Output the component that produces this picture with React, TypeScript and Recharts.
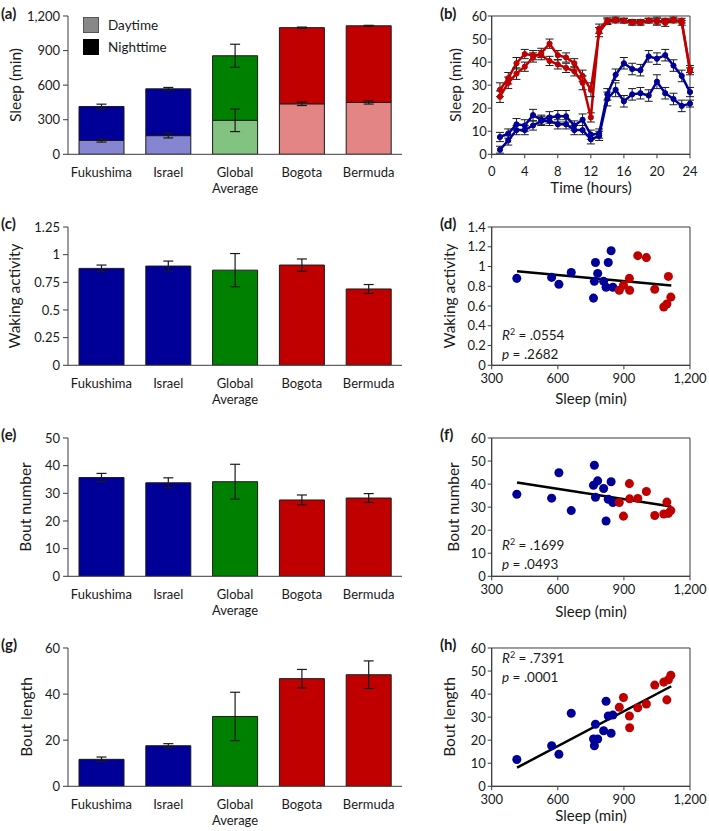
import React from 'react';
import {
  BarChart,
  Bar,
  Cell,
  ErrorBar,
  XAxis,
  YAxis,
  LineChart,
  Line,
  ScatterChart,
  Scatter,
  ReferenceLine,
  ReferenceArea,
} from 'recharts';

const FONT = 'Lato, "Open Sans", sans-serif';
const INK = '#1a1a1a';
const AXIS = '#3a3a3a';
const BLUE = '#000099';
const RED = '#C00000';

// sites shown in the bar panels
const sites = ['Fukushima', 'Israel', 'Global Average', 'Bogota', 'Bermuda'];
const siteDark = [BLUE, BLUE, '#008000', RED, RED];
const siteLight = ['#8585D2', '#8585D2', '#82C382', '#E38585', '#E38585'];

// (a) minutes of sleep, day part + night part
const daySleep = [120, 162, 295, 438, 450];
const daySleepErr = [14, 20, 98, 15, 14];
const nightSleep = [295, 406, 560, 661, 665];
const totalSleepErr = [20, 12, 100, 5, 4];

// (c) (e) (g)
const wakingActivity = [0.876, 0.897, 0.86, 0.906, 0.69];
const wakingActivityErr = [0.03, 0.045, 0.15, 0.055, 0.04];
const boutNumber = [35.7, 33.8, 34.2, 27.6, 28.3];
const boutNumberErr = [1.5, 1.8, 6.3, 1.8, 1.6];
const boutLength = [11.7, 17.6, 30.3, 46.7, 48.4];
const boutLengthErr = [1, 0.9, 10.5, 4, 6];

// (b) sleep per hour
const hours = [1, 2, 3, 4, 5, 6, 7, 8, 9, 10, 11, 12, 13, 14, 15, 16, 17, 18, 19, 20, 21, 22, 23, 24];
const redLine1 = [25, 31, 35, 38, 42, 44, 48, 43, 42, 39.5, 34, 28, 53, 57.5, 58, 58, 57, 57.5, 58, 57.5, 58, 58.5, 57, 37];
const redLine1Err = [2.5, 2.5, 2.5, 2, 2, 2, 2, 2, 2, 2, 2.5, 3, 2, 1.2, 1, 1, 1, 1, 1, 1.5, 1, 1, 1, 1.5];
const redLine2 = [28, 33, 39.5, 43.5, 43, 43, 40.5, 39, 37.5, 36, 31, 16, 54.5, 58, 58.5, 58, 57.5, 57, 58, 58, 57, 58, 58, 36];
const redLine2Err = [3, 2.5, 2.5, 2, 2, 2, 2, 2, 2, 2, 3, 2, 2, 1.2, 1, 1, 1, 1, 1, 1.5, 1.5, 1, 1, 1.5];
const blueLine1 = [7.5, 9, 13, 12.5, 17, 15, 16, 16.5, 16.5, 12.5, 15, 8.5, 9, 26, 34.5, 39.5, 37, 36.5, 42.5, 41.5, 43, 38.5, 34, 27];
const blueLine1Err = [2, 2, 2.5, 2.5, 2.5, 2, 2.5, 2.5, 2.5, 2, 2.5, 2, 2, 2.5, 2.5, 2.5, 2.5, 2.5, 2.5, 2.5, 2.5, 2.5, 2.5, 2];
const blueLine2 = [2, 6, 10.5, 10.5, 12.5, 14.5, 14.5, 13, 13, 10.5, 10.5, 6.5, 8, 24, 28, 23, 26, 26.5, 25.5, 31.5, 26.5, 24, 21, 22];
const blueLine2Err = [1.5, 2, 2, 2, 2, 2, 2, 2, 2, 2, 2, 2, 2, 3, 3, 2.5, 2.5, 2.5, 2.5, 3, 2.5, 2.5, 2.5, 1.5];

// (d) (f) (h) individuals: sleep (min) vs trait
const blueSleep = [414, 572, 605, 661, 762, 766, 771, 781, 808, 819, 829, 842, 850];
const redSleep = [879, 898, 925, 926, 963, 1002, 1040, 1081, 1095, 1102, 1113];
const blueWaking = [0.88, 0.89, 0.82, 0.94, 0.68, 0.85, 1.04, 0.93, 0.85, 0.79, 1.04, 1.16, 0.79];
const redWaking = [0.76, 0.81, 0.88, 0.76, 1.11, 1.09, 0.77, 0.59, 0.62, 0.9, 0.69];
const blueBoutNumber = [35.6, 33.9, 44.9, 28.5, 39.5, 48.2, 34.3, 41.4, 38.1, 24.0, 33.4, 41.0, 32.0];
const redBoutNumber = [32, 26.1, 40.2, 33.6, 33.8, 36.8, 26.4, 27.0, 32.2, 27.3, 28.5];
const blueBoutLength = [11.6, 17.6, 13.9, 31.7, 20.5, 17.6, 26.9, 20.5, 24.1, 36.9, 30.5, 23.0, 30.9];
const redBoutLength = [34.3, 38.5, 30.5, 25.4, 34.1, 35.7, 43.9, 45.2, 37.5, 46.2, 48.2];

// fitted lines (end points)
const trendWaking = [{ x: 415, y: 0.952 }, { x: 1115, y: 0.808 }];
const trendBoutNumber = [{ x: 415, y: 40.7 }, { x: 1115, y: 30.3 }];
const trendBoutLength = [{ x: 415, y: 8.1 }, { x: 1115, y: 43.4 }];

const fmtComma = (v: number) => v.toLocaleString('en-US');
const toPoints = (xs: number[], ys: number[]) => xs.map((x, i) => ({ x, y: ys[i] }));

const sleepRows = sites.map((site, i) => ({
  site,
  day: daySleep[i],
  dayErr: daySleepErr[i],
  night: nightSleep[i],
  totalErr: totalSleepErr[i],
}));
const simpleRows = (vals: number[], errs: number[]) =>
  sites.map((site, i) => ({ site, value: vals[i], err: errs[i] }));

const hourRows = hours.map((hour, i) => ({
  hour,
  r1: redLine1[i], r1e: redLine1Err[i],
  r2: redLine2[i], r2e: redLine2Err[i],
  b1: blueLine1[i], b1e: blueLine1Err[i],
  b2: blueLine2[i], b2e: blueLine2Err[i],
}));

const CH = 198.8;
const tickStyle = { fontSize: 13, fill: INK, fontFamily: FONT };

const SiteTick = (props: any) => {
  const { x, y, payload } = props;
  const words = String(payload.value).split(' ');
  return (
    <text x={x} y={y} textAnchor="middle" fontSize={13} fontFamily={FONT} fill={INK}>
      {words.map((w, i) => (
        <tspan key={w} x={x} dy={i === 0 ? 21.5 : 16.6}>{w}</tspan>
      ))}
    </text>
  );
};

const BarFrame = ({ top, rows, yMax, yTicks, yFmt, children }: any) => (
  <div style={{ position: 'absolute', left: 0, top, width: 410, height: CH }}>
    <BarChart width={410} height={CH} data={rows} margin={{ top: 16, right: 8, bottom: 0, left: 0 }}>
      <XAxis xAxisId="front" dataKey="site" hide height={0} />
      <XAxis
        xAxisId="edge"
        type="number"
        domain={[0, 5]}
        ticks={[0, 1, 2, 3, 4, 5]}
        interval={0}
        allowDataOverflow
        tick={false}
        tickSize={5}
        tickLine={{ stroke: AXIS }}
        axisLine={{ stroke: AXIS }}
        height={1}
      />
      <XAxis
        xAxisId="site"
        dataKey="site"
        interval={0}
        tick={<SiteTick />}
        tickLine={false}
        axisLine={false}
        tickSize={0}
        tickMargin={0}
        height={CH - 16 - 138.3 - 1}
      />
      <YAxis
        domain={[0, yMax]}
        ticks={yTicks}
        interval={0}
        tickFormatter={yFmt}
        width={68}
        tickSize={5}
        tickMargin={3}
        tick={tickStyle}
        tickLine={{ stroke: AXIS }}
        axisLine={{ stroke: AXIS }}
        allowDataOverflow
      />
      {children}
    </BarChart>
  </div>
);

const simpleBar = (rows: any[]) => (
  <Bar xAxisId="site" dataKey="value" barSize={45} stroke={INK} strokeWidth={1} isAnimationActive={false}>
    {rows.map((r, i) => (
      <Cell key={r.site} fill={siteDark[i]} />
    ))}
    <ErrorBar dataKey="err" width={5} stroke={INK} strokeWidth={1.2} />
  </Bar>
);

const ScatterFrame = ({ top, yMax, yTicks, children }: any) => (
  <div style={{ position: 'absolute', left: 440, top, width: 269, height: CH }}>
    <ScatterChart width={269} height={CH} margin={{ top: 16, right: 19, bottom: 0, left: 0 }}>
      <XAxis
        type="number"
        dataKey="x"
        domain={[300, 1200]}
        ticks={[300, 600, 900, 1200]}
        interval={0}
        tickFormatter={fmtComma}
        tickSize={4}
        tickMargin={4.5}
        tick={tickStyle}
        tickLine={{ stroke: AXIS }}
        axisLine={{ stroke: AXIS }}
        height={CH - 16 - 138.3}
        allowDataOverflow
      />
      <YAxis
        type="number"
        dataKey="y"
        domain={[0, yMax]}
        ticks={yTicks}
        interval={0}
        width={51.7}
        tickSize={4}
        tickMargin={2}
        tick={tickStyle}
        tickLine={{ stroke: AXIS }}
        axisLine={{ stroke: AXIS }}
        allowDataOverflow
      />
      <ReferenceArea x1={300} x2={1200} y1={0} y2={yMax} fill="none" stroke={AXIS} strokeWidth={1} />
      {children}
    </ScatterChart>
  </div>
);

const scatterPair = (blueY: number[], redY: number[], trend: any[]) => [
  <ReferenceLine key="t" segment={trend} stroke="#000" strokeWidth={2.5} />,
  <Scatter key="b" data={toPoints(blueSleep, blueY)} fill={BLUE} isAnimationActive={false} />,
  <Scatter key="r" data={toPoints(redSleep, redY)} fill={RED} isAnimationActive={false} />,
];

const RotTitle = ({ x, y, children }: any) => (
  <text
    x={x}
    y={y}
    transform={`rotate(-90 ${x} ${y})`}
    textAnchor="middle"
    dominantBaseline="central"
    fontSize={15.5}
    fontFamily={FONT}
    fill={INK}
  >
    {children}
  </text>
);

const Letter = ({ x, y, children }: any) => (
  <text x={x} y={y} fontSize={15} fontWeight="bold" fontFamily={FONT} fill={INK}>
    {children}
  </text>
);

const Stats = ({ y, r2, p }: any) => (
  <g fontSize={13.5} fontFamily={FONT} fill={INK}>
    <text x={502} y={y}>
      <tspan fontStyle="italic">R</tspan>
      <tspan fontSize={9} dy={-5}>2</tspan>
      <tspan dy={5}>{` = ${r2}`}</tspan>
    </text>
    <text x={502} y={y + 19}>
      <tspan fontStyle="italic">p</tspan>
      <tspan>{` = ${p}`}</tspan>
    </text>
  </g>
);

export default function App() {
  const lineDot = (c: string) => ({ r: 2.6, fill: c, stroke: c, strokeWidth: 1 });
  return (
    <div style={{ position: 'absolute', left: 0, top: 0, width: 709, height: 831, overflow: 'hidden', background: '#fff' }}>
      {/* (a) stacked sleep */}
      <BarFrame top={0} rows={sleepRows} yMax={1200} yTicks={[0, 300, 600, 900, 1200]} yFmt={fmtComma}>
        <Bar xAxisId="site" dataKey="day" stackId="s" barSize={45} stroke={INK} strokeWidth={1} isAnimationActive={false}>
          {sleepRows.map((r, i) => (
            <Cell key={r.site} fill={siteLight[i]} />
          ))}
        </Bar>
        <Bar xAxisId="site" dataKey="night" stackId="s" barSize={45} stroke={INK} strokeWidth={1} isAnimationActive={false}>
          {sleepRows.map((r, i) => (
            <Cell key={r.site} fill={siteDark[i]} />
          ))}
          <ErrorBar dataKey="totalErr" width={5} stroke={INK} strokeWidth={1.2} />
        </Bar>
        {/* invisible copy of the day bars so their error bars sit on top */}
        <Bar xAxisId="front" dataKey="day" barSize={45} fill="none" stroke="none" isAnimationActive={false}>
          <ErrorBar dataKey="dayErr" width={5} stroke={INK} strokeWidth={1.2} />
        </Bar>
      </BarFrame>

      {/* (c) waking activity */}
      <BarFrame top={210.7} rows={simpleRows(wakingActivity, wakingActivityErr)} yMax={1.25} yTicks={[0, 0.25, 0.5, 0.75, 1, 1.25]}>
        {simpleBar(simpleRows(wakingActivity, wakingActivityErr))}
      </BarFrame>

      {/* (e) bout number */}
      <BarFrame top={422.3} rows={simpleRows(boutNumber, boutNumberErr)} yMax={50} yTicks={[0, 10, 20, 30, 40, 50]}>
        {simpleBar(simpleRows(boutNumber, boutNumberErr))}
      </BarFrame>

      {/* (g) bout length */}
      <BarFrame top={632.3} rows={simpleRows(boutLength, boutLengthErr)} yMax={60} yTicks={[0, 20, 40, 60]}>
        {simpleBar(simpleRows(boutLength, boutLengthErr))}
      </BarFrame>

      {/* (b) hourly sleep */}
      <div style={{ position: 'absolute', left: 440, top: 0, width: 269, height: CH }}>
        <LineChart width={269} height={CH} data={hourRows} margin={{ top: 16, right: 19, bottom: 0, left: 0 }}>
          <XAxis
            type="number"
            dataKey="hour"
            domain={[0, 24]}
            ticks={[0, 4, 8, 12, 16, 20, 24]}
            interval={0}
            tickSize={4}
            tickMargin={8}
            tick={tickStyle}
            tickLine={{ stroke: AXIS }}
            axisLine={{ stroke: AXIS }}
            height={CH - 16 - 138.3}
          />
          <YAxis
            domain={[0, 60]}
            ticks={[0, 10, 20, 30, 40, 50, 60]}
            interval={0}
            width={51.7}
            tickSize={4}
            tickMargin={1}
            tick={tickStyle}
            tickLine={{ stroke: AXIS }}
            axisLine={{ stroke: AXIS }}
          />
          <ReferenceArea x1={0} x2={24} y1={0} y2={60} fill="none" stroke={AXIS} strokeWidth={1} />
          <Line dataKey="r2" stroke={RED} strokeWidth={2.5} dot={lineDot(RED)} isAnimationActive={false}>
            <ErrorBar dataKey="r2e" width={4} stroke={INK} strokeWidth={1} />
          </Line>
          <Line dataKey="r1" stroke={RED} strokeWidth={2.5} dot={lineDot(RED)} isAnimationActive={false}>
            <ErrorBar dataKey="r1e" width={4} stroke={INK} strokeWidth={1} />
          </Line>
          <Line dataKey="b2" stroke={BLUE} strokeWidth={2.5} dot={lineDot(BLUE)} isAnimationActive={false}>
            <ErrorBar dataKey="b2e" width={4} stroke={INK} strokeWidth={1} />
          </Line>
          <Line dataKey="b1" stroke={BLUE} strokeWidth={2.5} dot={lineDot(BLUE)} isAnimationActive={false}>
            <ErrorBar dataKey="b1e" width={4} stroke={INK} strokeWidth={1} />
          </Line>
        </LineChart>
      </div>

      {/* (d) (f) (h) scatter */}
      <ScatterFrame top={210.7} yMax={1.4} yTicks={[0, 0.2, 0.4, 0.6, 0.8, 1, 1.2, 1.4]}>
        {scatterPair(blueWaking, redWaking, trendWaking)}
      </ScatterFrame>
      <ScatterFrame top={422.3} yMax={60} yTicks={[0, 10, 20, 30, 40, 50, 60]}>
        {scatterPair(blueBoutNumber, redBoutNumber, trendBoutNumber)}
      </ScatterFrame>
      <ScatterFrame top={632.3} yMax={60} yTicks={[0, 10, 20, 30, 40, 50, 60]}>
        {scatterPair(blueBoutLength, redBoutLength, trendBoutLength)}
      </ScatterFrame>

      {/* titles, letters, legend, stats */}
      <svg width={709} height={831} style={{ position: 'absolute', left: 0, top: 0, pointerEvents: 'none' }}>
        <Letter x={1} y={19}>(a)</Letter>
        <Letter x={440} y={19}>(b)</Letter>
        <Letter x={1} y={229}>(c)</Letter>
        <Letter x={440} y={229}>(d)</Letter>
        <Letter x={1} y={440}>(e)</Letter>
        <Letter x={440} y={440}>(f)</Letter>
        <Letter x={1} y={650}>(g)</Letter>
        <Letter x={440} y={650}>(h)</Letter>

        <RotTitle x={15} y={85}>Sleep (min)</RotTitle>
        <RotTitle x={14} y={296}>Waking activity</RotTitle>
        <RotTitle x={25} y={507}>Bout number</RotTitle>
        <RotTitle x={26} y={717}>Bout length</RotTitle>
        <RotTitle x={455} y={85}>Sleep (min)</RotTitle>
        <RotTitle x={449} y={296}>Waking activity</RotTitle>
        <RotTitle x={452.5} y={507}>Bout number</RotTitle>
        <RotTitle x={449} y={717}>Bout length</RotTitle>

        <g fontSize={15} fontFamily={FONT} fill={INK} textAnchor="middle">
          <text x={591} y={193.3}>Time (hours)</text>
          <text x={591} y={404}>Sleep (min)</text>
          <text x={591} y={617}>Sleep (min)</text>
          <text x={591} y={821}>Sleep (min)</text>
        </g>

        <g>
          <rect x={83.5} y={17.5} width={15} height={15} fill="#888" stroke="#555" />
          <rect x={83.5} y={39.5} width={15} height={15} fill="#000" stroke="#000" />
          <text x={108} y={29.5} fontSize={13.5} fontFamily={FONT} fill={INK}>Daytime</text>
          <text x={108} y={51.5} fontSize={13.5} fontFamily={FONT} fill={INK}>Nighttime</text>
        </g>

        <Stats y={340} r2=".0554" p=".2682" />
        <Stats y={550} r2=".1699" p=".0493" />
        <Stats y={663} r2=".7391" p=".0001" />
      </svg>
    </div>
  );
}
